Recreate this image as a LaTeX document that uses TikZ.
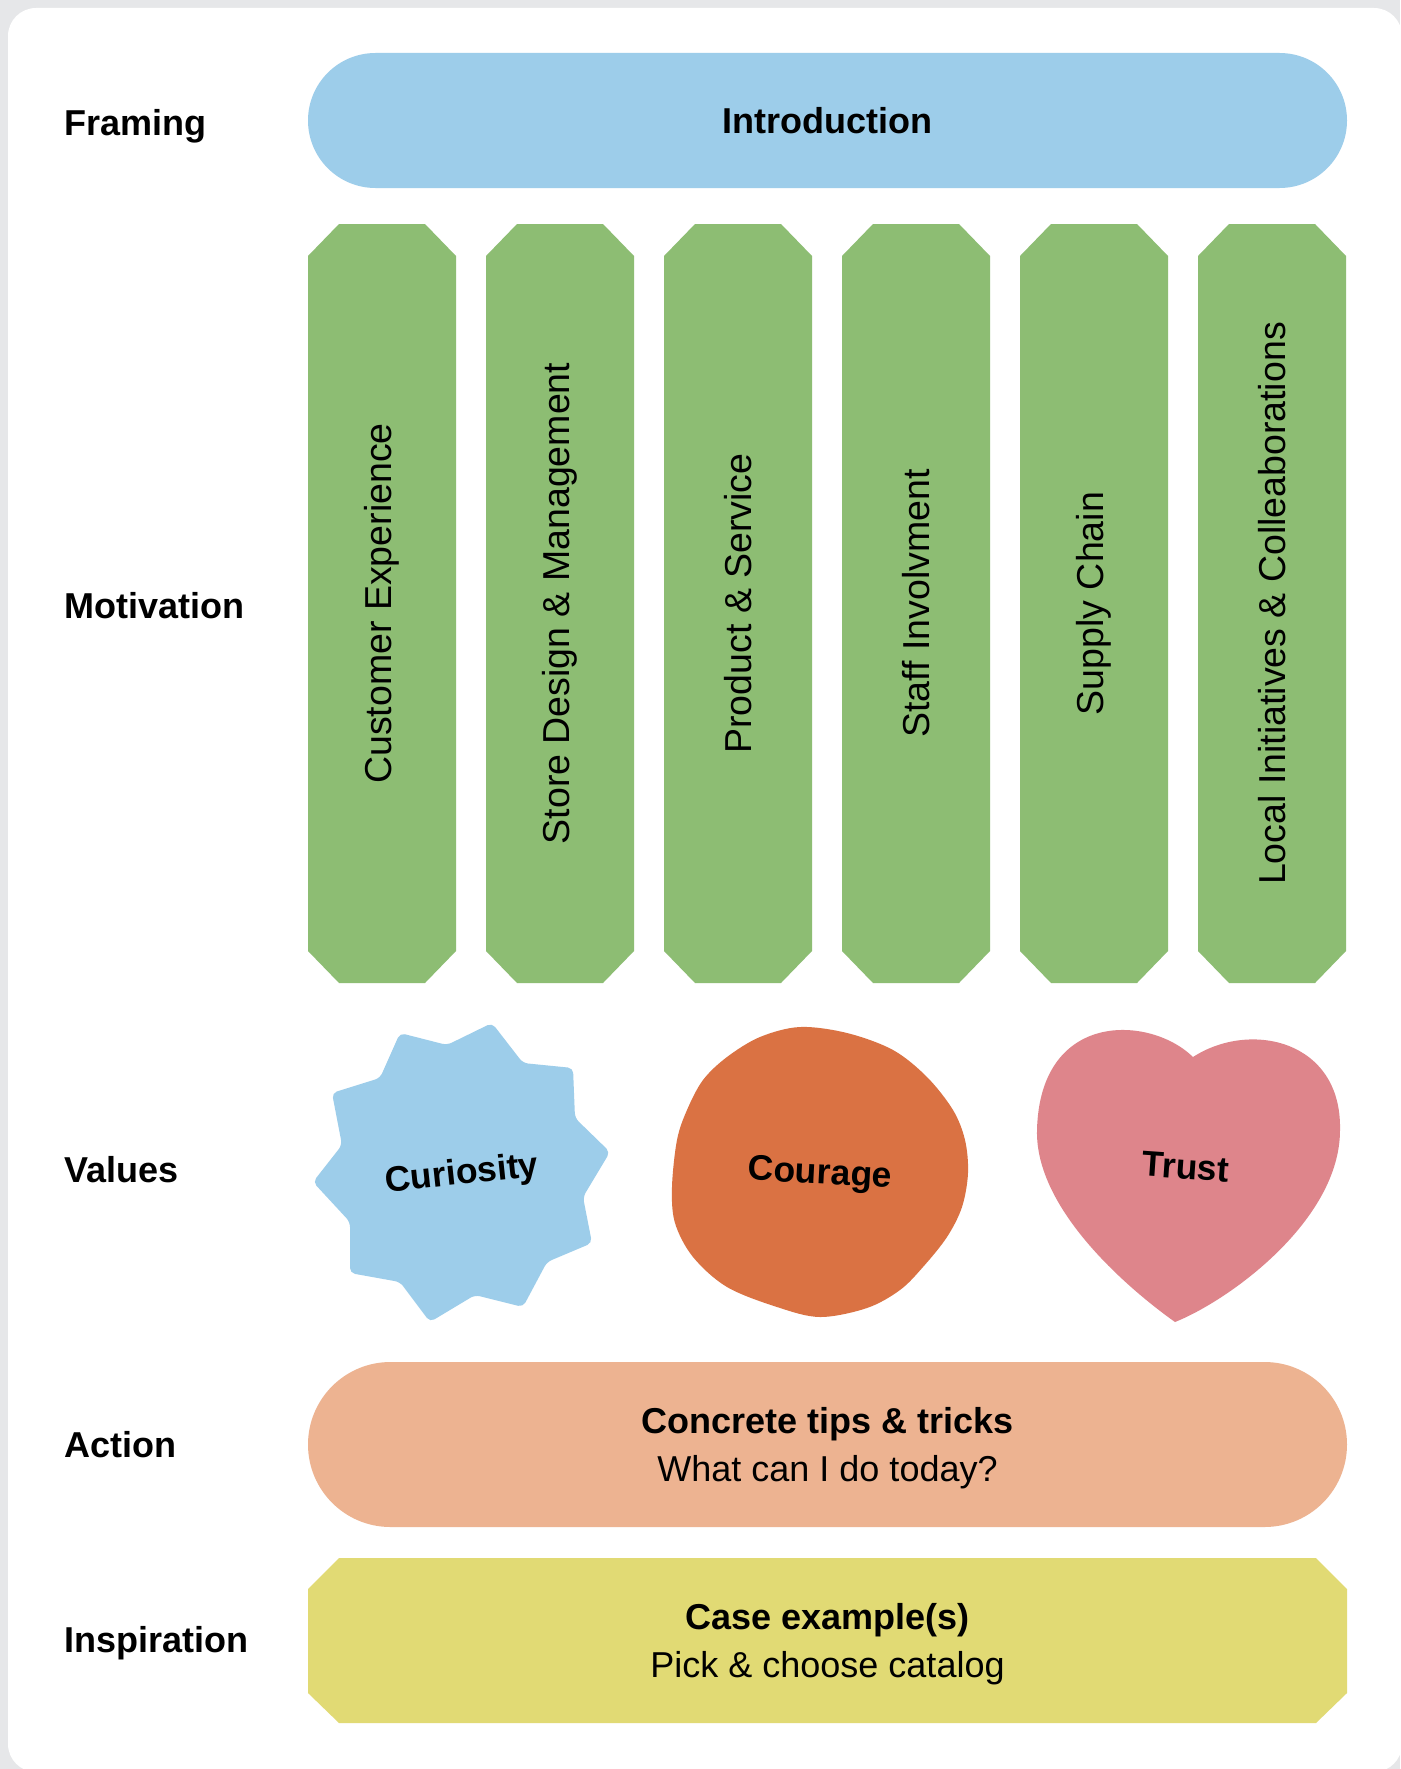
\documentclass[tikz,border=0pt]{standalone}
\usepackage{fontspec}
\setmainfont{Liberation Sans}
\definecolor{bggray}{HTML}{E6E7E9}
\definecolor{introblue}{HTML}{9DCDEA}
\definecolor{colgreen}{HTML}{8DBD73}
\definecolor{courage}{HTML}{DA7243}
\definecolor{trust}{HTML}{DE858B}
\definecolor{actionc}{HTML}{EDB391}
\definecolor{inspire}{HTML}{E1DA74}
\begin{document}
\begin{tikzpicture}[x=1pt,y=-1pt,
  rowlabel/.style={font=\fontsize{36}{43}\selectfont\bfseries, anchor=base west, inner sep=0},
  pill/.style={inner sep=0, align=center, font=\fontsize{36}{48}\selectfont},
  coltext/.style={rotate=90, inner sep=0, font=\fontsize{37.5}{45}\selectfont},
  valtext/.style={inner sep=0, font=\fontsize{35.5}{42}\selectfont\bfseries}]
\useasboundingbox (0,0) rectangle (1400,1769);
\fill[bggray] (0,0) rectangle (1400,1769);
\fill[white, rounded corners=28] (8,8) rectangle (1402,1772);

% row labels
\node[rowlabel] (lframing) at (64,135) {Framing};
\node[rowlabel] (lmotiv) at (64,618) {Motivation};
\node[rowlabel] (lvalues) at (64,1182) {Values};
\node[rowlabel] (laction) at (64,1457) {Action};
\node[rowlabel] (linspire) at (64,1652) {Inspiration};

% introduction
\node[pill, fill=introblue, rounded corners=67.5, minimum width=1039, minimum height=135] (intro) at (827.5,120.5) {\bfseries Introduction};

% motivation columns
\foreach \x/\n/\t in {308/c1/Customer Experience, 486/c2/Store Design \& Management, 664/c3/Product \& Service, 842/c4/Staff Involvment, 1020/c5/Supply Chain, 1198/c6/Local Initiatives \& Colleaborations}{
  \fill[colgreen] (\x+31,224) -- (\x+117,224) -- (\x+148,256) -- (\x+148,951) -- (\x+117,983) -- (\x+31,983) -- (\x,951) -- (\x,256) -- cycle;
  \node[coltext] (\n) at (\x+74,603.5) {\t};
}

% values
\fill[introblue, rounded corners=5] (400,1033) -- (447,1045) -- (492,1023) -- (523,1063) -- (573,1068) -- (575,1118) -- (610,1152) -- (583,1197) -- (592,1243) -- (547,1262) -- (523,1307) -- (475,1295) -- (430,1322) -- (400,1282) -- (350,1273) -- (350,1222) -- (313,1182) -- (342,1145) -- (332,1093) -- (380,1078) -- cycle;
\node[valtext, rotate=6] (curiosity) at (462,1175) {Curiosity};

\fill[courage] plot[smooth cycle, tension=0.55] coordinates {(800,1027) (847,1033) (893,1050) (927,1077) (953,1110) (965,1140) (968,1173) (962,1207) (947,1237) (923,1267) (900,1290) (867,1308) (820,1317) (777,1307) (727,1287) (693,1257) (675,1223) (672,1187) (677,1140) (687,1110) (703,1080) (727,1057) (760,1037)};
\node[valtext, rotate=-3] (courage) at (820,1175) {Courage};

\fill[trust] (1193,1057) .. controls (1150,1015) and (1040,1010) .. (1037,1130)
  .. controls (1035,1210) and (1130,1290) .. (1175,1322)
  .. controls (1230,1300) and (1340,1220) .. (1340,1130)
  .. controls (1342,1040) and (1250,1020) .. (1193,1057) -- cycle;
\node[valtext, rotate=-4] (trust) at (1186,1167) {Trust};

% action
\node[pill, fill=actionc, rounded corners=82.5, minimum width=1039, minimum height=165] (action) at (827.5,1444.5) {};
\node[pill] (actiontext) at (827.5,1448) {\bfseries Concrete tips \& tricks\\What can I do today?};

% inspiration
\fill[inspire] (339,1558) -- (1316,1558) -- (1347,1589) -- (1347,1693) -- (1316,1723) -- (339,1723) -- (308,1693) -- (308,1589) -- cycle;
\node[pill] (cases) at (827.5,1644) {\bfseries Case example(s)\\Pick \& choose catalog};
\end{tikzpicture}
\end{document}
